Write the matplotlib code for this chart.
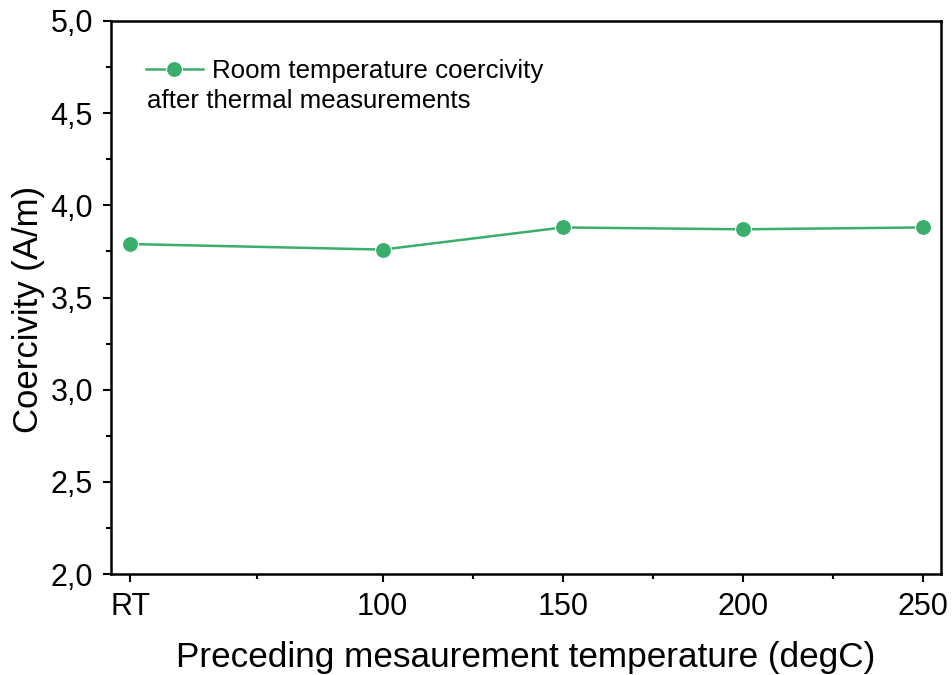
import matplotlib.pyplot as plt

plt.rcParams['font.family'] = ['Liberation Sans', 'DejaVu Sans']

# data
temps = [30, 100, 150, 200, 250]
tick_labels = ['RT', '100', '150', '200', '250']
coercivity = [3.79, 3.76, 3.88, 3.87, 3.88]
minor_x = [65, 125, 175, 225]
green = '#3aae6b'

fig = plt.figure(figsize=(9.53, 6.75), dpi=100)
ax = fig.add_axes([0.1165, 0.1496, 0.8709, 0.8193])

ax.plot(temps, coercivity, color=green, lw=1.8, marker='o', ms=11.5,
        markeredgecolor='white', markeredgewidth=0.8,
        label='Room temperature coercivity')

ax.set_xlim(24.6, 255)
ax.set_ylim(2.0, 5.0)
ax.set_xticks(temps)
ax.set_xticklabels(tick_labels)
ax.set_xticks(minor_x, minor=True)
ax.set_yticks([2.0, 2.5, 3.0, 3.5, 4.0, 4.5, 5.0])
ax.set_yticklabels(['2,0', '2,5', '3,0', '3,5', '4,0', '4,5', '5,0'])
ax.set_yticks([2.25, 2.75, 3.25, 3.75, 4.25, 4.75], minor=True)

ax.tick_params(which='major', direction='out', length=6, width=1.5, labelsize=22, pad=7)
ax.tick_params(which='minor', direction='out', length=3.5, width=1.5)
for s in ax.spines.values():
    s.set_linewidth(1.8)

ax.set_xlabel('Preceding mesaurement temperature (degC)', fontsize=25.3)
ax.set_ylabel('Coercivity (A/m)', fontsize=25)
ax.xaxis.set_label_coords(0.5, -0.122)
ax.yaxis.set_label_coords(-0.0795, 0.479)

leg = ax.legend(loc='center left', bbox_to_anchor=(0.042, 0.909), frameon=False,
                fontsize=18.6, handlelength=2.2, handletextpad=0.35,
                borderpad=0, borderaxespad=0)
ax.text(0.0434, 0.8427, 'after thermal measurements', transform=ax.transAxes,
        fontsize=18.6, va='baseline', ha='left')

fig.savefig('out.png', dpi=100)
